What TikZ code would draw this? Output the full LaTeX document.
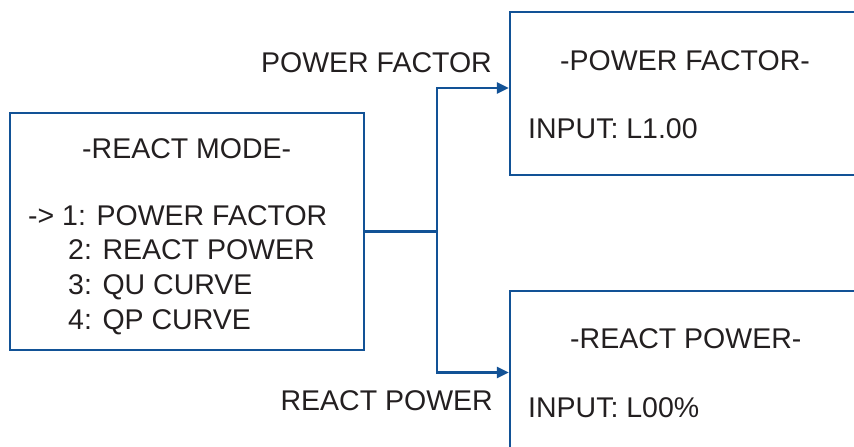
\documentclass[tikz,border=0pt]{standalone}
\usepackage{fontspec}
\setmainfont{Liberation Sans}
\usepackage{tikz}
\usetikzlibrary{arrows.meta,positioning}
\definecolor{wire}{RGB}{18,82,150}
\definecolor{ink}{RGB}{35,31,32}

\begin{document}
\begin{tikzpicture}[x=1pt,y=-1pt,>={Triangle[length=12pt,width=11pt]},
    screen/.style={draw=wire,line width=2.4pt,inner sep=0pt},
    txt/.style={anchor=base west,inner sep=0pt,text=ink,font=\fontsize{28.5}{34}\selectfont}]
    \useasboundingbox (0,0) rectangle (854,447);
    \clip (0,0) rectangle (854,447);
    % display screens
    \node[screen,minimum width=354pt,minimum height=237pt] (mode) at (187,231.5) {};
    \node[screen,minimum width=354pt,minimum height=163pt] (pf) at (687,93.5) {};
    \node[screen,minimum width=354pt,minimum height=163pt] (rp) at (687,372.5) {};
    % menu text
    \node[txt] (modetitle) at (82,158) {-REACT MODE-};
    \node[txt] (item1) at (28,225) {-> 1: POWER FACTOR};
    \node[txt] (item2) at (68,259.5) {2: REACT POWER};
    \node[txt] (item3) at (68,294) {3: QU CURVE};
    \node[txt] (item4) at (68,329) {4: QP CURVE};
    \node[txt] (pftitle) at (560,70) {-POWER FACTOR-};
    \node[txt] (pfinput) at (528,138) {INPUT: L1.00};
    \node[txt] (rptitle) at (570,348) {-REACT POWER-};
    \node[txt] (rpinput) at (528,417) {INPUT: L00\%};
    % branch labels
    \node[txt,anchor=base east] (pflabel) at (492,72) {POWER FACTOR};
    \node[txt,anchor=base east] (rplabel) at (493,410) {REACT POWER};
    % connectors
    \coordinate (split) at (437,231.5);
    \draw[wire,line width=2.4pt] (mode.east) -- (split);
    \draw[wire,line width=2.4pt,->] (split) |- ([yshift=5.5pt]pf.west);
    \draw[wire,line width=2.4pt,->] (split) |- (rp.west);
\end{tikzpicture}
\end{document}
